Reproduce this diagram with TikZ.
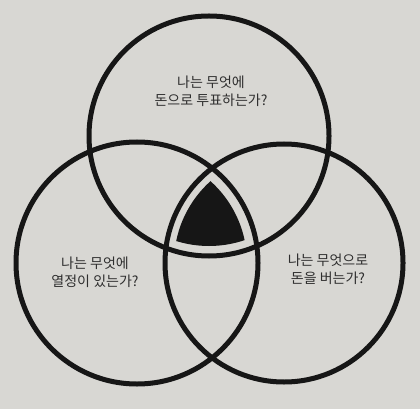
\documentclass[tikz,border=0pt]{standalone}
\usepackage{fontspec}
\newfontfamily\kr{Noto Sans CJK KR}
\definecolor{paper}{HTML}{D8D7D3}
\definecolor{ink}{HTML}{161616}
\definecolor{txt}{HTML}{2E2E2E}
\tikzset{
  ring/.style={draw=ink, line width=3.75pt},
  label/.style={font=\kr\fontsize{10.5pt}{13.7pt}\selectfont, text=txt, align=center, inner sep=0pt}
}
\begin{document}
\begin{tikzpicture}[x=0.75pt,y=-0.75pt]
\fill[paper] (0,0) rectangle (420,409);
\useasboundingbox (0,0) rectangle (420,409);
\coordinate (ct) at (209,136);
\coordinate (cl) at (137,263);
\coordinate (cr) at (284,263);
% black centre
\begin{scope}
  \clip (ct) circle (110);
  \clip (cl) circle (110);
  \fill[ink] (cr) circle (110);
\end{scope}
\draw[ring] (ct) circle (120);
\draw[ring] (cl) circle (121);
\draw[ring] (cr) circle (119);
\node[label] (t) at (211,91) {나는 무엇에\\돈으로 투표하는가?};
\node[label] (l) at (95,272) {나는 무엇에\\열정이 있는가?};
\node[label] (r) at (328,269) {나는 무엇으로\\돈을 버는가?};
\end{tikzpicture}
\end{document}
